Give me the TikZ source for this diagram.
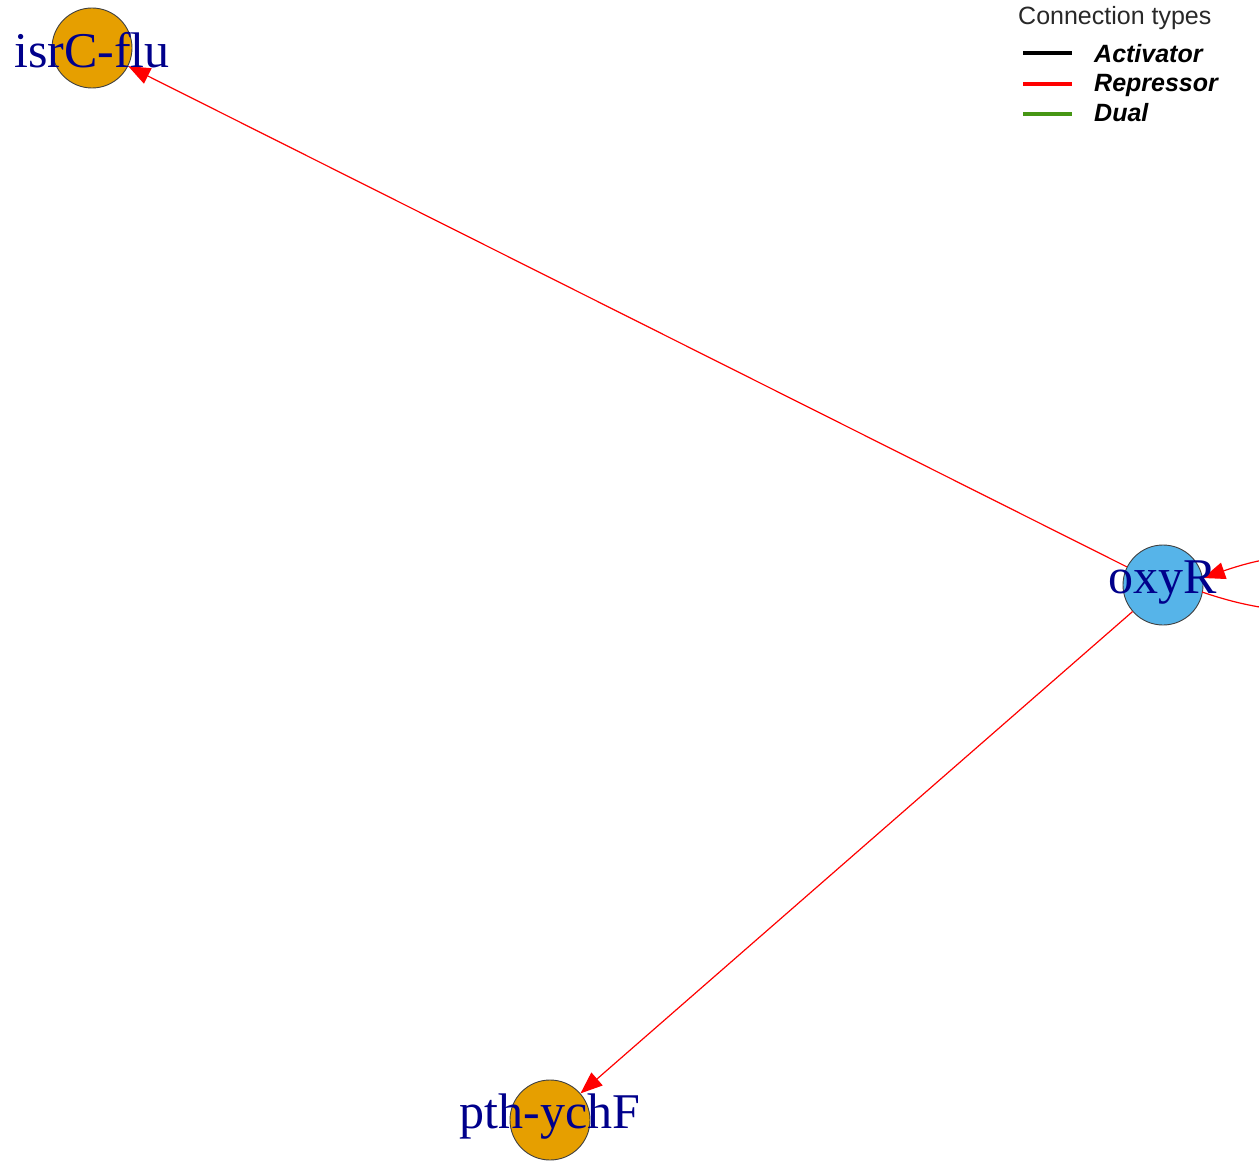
\documentclass[tikz,border=0pt]{standalone}
\usepackage{fontspec}
\setmainfont{Liberation Serif}
\newfontfamily\legfont{Liberation Sans}
\usetikzlibrary{arrows.meta}
\definecolor{nodeorange}{HTML}{E69F00}
\definecolor{nodeblue}{HTML}{56B4E9}
\definecolor{labelblue}{RGB}{0,0,139}
\definecolor{dualgreen}{RGB}{70,150,20}
\definecolor{legtext}{RGB}{40,40,40}
\tikzset{
  gene/.style={circle, draw=black!75, line width=0.9pt, minimum size=80pt, inner sep=0pt},
  genelabel/.style={text=labelblue, font=\fontsize{50}{50}\selectfont, inner sep=0pt},
  edge/.style={red, line width=1.2pt, -{Triangle[length=22pt,width=17pt]}},
  legline/.style={line width=3.5pt},
  legitem/.style={anchor=base west, font=\legfont\bfseries\itshape\fontsize{25}{25}\selectfont, text=black, inner sep=0pt},
}
\begin{document}
\begin{tikzpicture}[x=1pt,y=-1pt]
\useasboundingbox (0,0) rectangle (1259,1161);
\clip (0,0) rectangle (1259,1161);
\node[gene, fill=nodeorange] (isrC) at (92,48) {};
\node[gene, fill=nodeblue] (oxyR) at (1163,585) {};
\node[gene, fill=nodeorange] (pth) at (550,1120) {};
\coordinate (loopout) at (1202,592);
\coordinate (loopin) at (1203,578);
\draw[edge] (oxyR) -- (isrC);
\draw[edge] (oxyR) -- (pth);
\draw[edge] (loopout) .. controls (1400,660) and (1400,510) .. (loopin);
\node[genelabel] (isrClab) at (92,50) {isrC-flu};
\node[genelabel] (oxyRlab) at (1163,583) {oxyR};
\node[genelabel] (pthlab) at (550,1117) {pth-ychF};
% legend
\node[anchor=base west, inner sep=0pt, text=legtext, font=\legfont\fontsize{25}{25}\selectfont] (legtitle) at (1018,25) {Connection types};
\coordinate (la1) at (1023,53); \coordinate (lb1) at (1072,53);
\coordinate (la2) at (1023,84); \coordinate (lb2) at (1072,84);
\coordinate (la3) at (1023,114); \coordinate (lb3) at (1072,114);
\draw[legline, black] (la1) -- (lb1);
\draw[legline, red] (la2) -- (lb2);
\draw[legline, dualgreen] (la3) -- (lb3);
\node[legitem] (leg1) at (1094,63) {Activator};
\node[legitem] (leg2) at (1094,92) {Repressor};
\node[legitem] (leg3) at (1094,122) {Dual};
\end{tikzpicture}
\end{document}
